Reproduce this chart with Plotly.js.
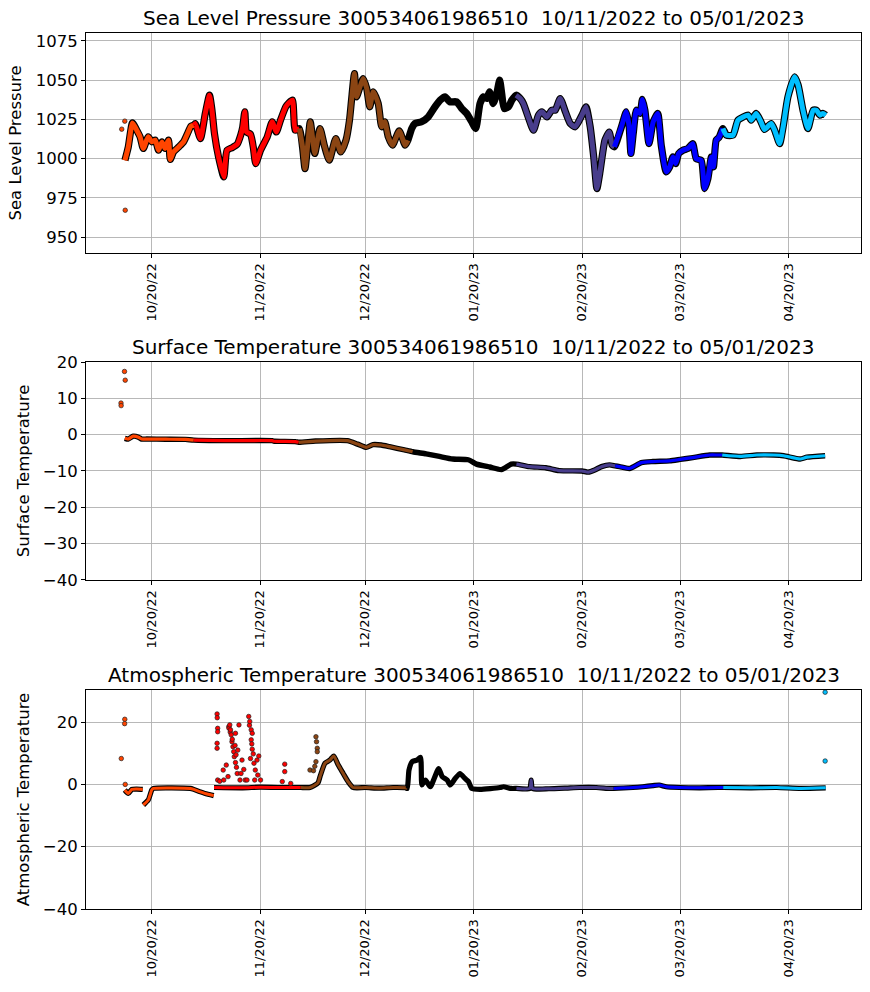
<!DOCTYPE html>
<html>
<head>
<meta charset="utf-8">
<script src="https://cdn.plot.ly/plotly-3.0.1.min.js"></script>
<style>html,body{margin:0;padding:0;background:#fff;}#chart{width:870px;height:992px;}</style>
</head>
<body>
<div id="chart"></div>
<script>
// ---------- DATA ----------
const segColors = ['#FF4500','#FF0000','#8B4513','#000000','#483D8B','#0000FF','#00BFFF'];
const monthBreaks = ['2022-10-01','2022-11-01','2022-12-01','2023-01-01','2023-02-01','2023-03-01','2023-04-01'];
const atmBreaks = ['2022-10-01','2022-11-06 18:00','2022-12-01','2023-01-01','2023-02-01','2023-03-01','2023-04-01'];
const xTicks = ['2022-10-20','2022-11-20','2022-12-20','2023-01-20','2023-02-20','2023-03-20','2023-04-20'];
const xRange = ['2022-10-01 05:00','2023-05-10 16:00'];

const presTitle = 'Sea Level Pressure 300534061986510 \u00a010/11/2022 to 05/01/2023';
const surfTitle = 'Surface Temperature 300534061986510 \u00a010/11/2022 to 05/01/2023';
const atmTitle = 'Atmospheric Temperature 300534061986510 \u00a010/11/2022 to 05/01/2023';

const presDates = [
'2022-10-12 08:00','2022-10-13 07:00','2022-10-14 12:00','2022-10-15 17:00','2022-10-16 16:00','2022-10-17 14:00','2022-10-19 00:00','2022-10-20 00:00','2022-10-21 00:00','2022-10-21 22:00','2022-10-22 22:00','2022-10-23 19:00','2022-10-24 19:00','2022-10-25 07:00','2022-10-26 05:00','2022-10-27 17:00','2022-10-29 02:00','2022-10-30 05:00','2022-10-31 05:00',
'2022-11-01 00:00','2022-11-01 10:00','2022-11-02 22:00','2022-11-04 07:00','2022-11-05 12:00','2022-11-06 05:00','2022-11-06 22:00','2022-11-08 02:00','2022-11-09 14:00','2022-11-10 12:00','2022-11-12 00:00','2022-11-13 10:00','2022-11-14 10:00','2022-11-15 00:00','2022-11-15 14:00','2022-11-16 02:00','2022-11-17 05:00','2022-11-18 00:00','2022-11-18 17:00','2022-11-20 02:00','2022-11-22 00:00','2022-11-23 10:00','2022-11-24 14:00','2022-11-25 19:00','2022-11-27 07:00','2022-11-28 05:00','2022-11-29 05:00','2022-11-30 00:00',
'2022-12-01 05:00','2022-12-02 02:00','2022-12-02 19:00','2022-12-03 12:00','2022-12-04 07:00','2022-12-04 22:00','2022-12-05 14:00','2022-12-07 02:00','2022-12-08 07:00','2022-12-09 17:00','2022-12-11 14:00','2022-12-13 00:00','2022-12-14 12:00','2022-12-15 12:00','2022-12-16 02:00','2022-12-16 22:00','2022-12-17 12:00','2022-12-18 12:00','2022-12-19 10:00','2022-12-20 10:00','2022-12-21 07:00','2022-12-22 07:00','2022-12-23 17:00','2022-12-24 17:00','2022-12-25 14:00','2022-12-26 14:00','2022-12-27 19:00','2022-12-29 17:00','2022-12-31 10:00',
'2023-01-01 05:00','2023-01-02 07:00','2023-01-03 05:00','2023-01-05 02:00','2023-01-07 00:00','2023-01-08 22:00','2023-01-10 10:00','2023-01-11 19:00','2023-01-13 05:00','2023-01-15 02:00','2023-01-16 14:00','2023-01-18 00:00','2023-01-19 10:00','2023-01-20 14:00','2023-01-21 19:00','2023-01-22 19:00','2023-01-23 17:00','2023-01-24 12:00','2023-01-25 14:00','2023-01-26 14:00','2023-01-27 10:00','2023-01-28 00:00','2023-01-28 17:00','2023-01-29 22:00','2023-01-30 22:00',
'2023-02-01 02:00','2023-02-02 07:00','2023-02-03 05:00','2023-02-04 17:00','2023-02-06 02:00','2023-02-07 12:00','2023-02-08 12:00','2023-02-09 22:00','2023-02-11 07:00','2023-02-12 07:00','2023-02-13 17:00','2023-02-15 05:00','2023-02-16 14:00','2023-02-18 00:00','2023-02-19 22:00','2023-02-21 02:00','2023-02-22 07:00','2023-02-23 07:00','2023-02-24 05:00','2023-02-25 00:00','2023-02-26 12:00','2023-02-27 17:00','2023-02-28 14:00',
'2023-03-01 05:00','2023-03-03 05:00','2023-03-04 14:00','2023-03-05 10:00','2023-03-05 22:00','2023-03-06 14:00','2023-03-07 12:00','2023-03-08 12:00','2023-03-09 05:00','2023-03-09 22:00','2023-03-11 02:00','2023-03-12 07:00','2023-03-13 14:00','2023-03-14 14:00','2023-03-16 00:00','2023-03-17 00:00','2023-03-17 22:00','2023-03-18 17:00','2023-03-19 14:00','2023-03-20 19:00','2023-03-22 05:00','2023-03-23 14:00','2023-03-24 14:00','2023-03-26 00:00','2023-03-27 00:00','2023-03-27 22:00','2023-03-28 22:00','2023-03-29 12:00','2023-03-30 07:00','2023-03-31 02:00',
'2023-04-01 05:00','2023-04-02 05:00','2023-04-04 02:00','2023-04-05 12:00','2023-04-07 00:00','2023-04-08 10:00','2023-04-09 07:00','2023-04-10 17:00','2023-04-12 02:00','2023-04-13 02:00','2023-04-15 00:00','2023-04-16 00:00','2023-04-17 10:00','2023-04-18 10:00','2023-04-19 19:00','2023-04-21 17:00','2023-04-22 17:00','2023-04-24 02:00','2023-04-25 12:00','2023-04-27 00:00','2023-04-27 22:00','2023-04-28 22:00','2023-04-29 19:00','2023-04-30 14:00'
];
const presVals = [
999.0,1007.5,1022.8,1018.1,1013.9,1006.5,1013.9,1010.7,1011.8,1005.4,1010.7,1006.5,1011.8,999.5,1004.3,1007.5,1010.7,1016.0,1020.7,
1021.3,1022.4,1012.8,1028.8,1040.4,1030.9,1016.0,1001.1,988.4,1005.4,1007.1,1009.2,1015.0,1020.3,1029.8,1017.0,1015.6,1007.5,996.9,1005.4,1013.9,1023.5,1017.0,1024.5,1033.0,1035.6,1037.3,1018.1,
1019.2,1007.5,993.7,1007.5,1023.5,1013.9,1003.3,1019.2,1008.6,999.0,1012.8,1004.3,1011.8,1024.5,1037.3,1054.2,1039.4,1045.7,1051.0,1044.7,1033.0,1042.6,1035.1,1020.3,1023.5,1013.9,1008.6,1017.7,1008.6,
1011.8,1019.2,1022.4,1023.5,1026.6,1033.0,1037.3,1039.4,1036.2,1036.2,1031.9,1028.8,1023.5,1019.2,1035.1,1039.4,1038.3,1042.6,1035.1,1041.5,1050.0,1041.5,1031.9,1033.0,1037.3,
1040.4,1038.3,1035.1,1025.6,1018.1,1027.7,1029.8,1026.6,1030.9,1030.9,1038.3,1029.8,1022.4,1020.3,1027.7,1033.0,1020.3,1001.1,981.0,990.4,1011.8,1017.0,1008.6,
1007.5,1020.3,1029.8,1020.3,1003.3,1016.0,1030.9,1028.8,1037.7,1030.9,1009.6,1023.5,1028.8,1008.6,991.6,994.8,1001.1,996.9,1003.3,1005.4,1006.5,1009.6,1000.0,999.0,981.0,987.3,1001.1,994.8,1011.8,1013.5,
1019.2,1015.0,1015.0,1024.5,1026.6,1027.7,1024.5,1028.8,1023.5,1018.6,1022.4,1018.1,1009.6,1020.3,1039.4,1052.1,1046.8,1030.9,1019.2,1030.9,1030.9,1027.7,1028.8,1027.7
];
const presPtDates = ['2022-10-12 07:00','2022-10-11 10:00','2022-10-12 10:00'];
const presPtVals = [1023.9,1018.8,967.2];

const surfDates = [
'2022-10-12 07:00','2022-10-13 07:00','2022-10-14 17:00','2022-10-16 05:00','2022-10-17 02:00','2022-10-18 14:00','2022-10-24 00:00','2022-10-29 14:00',
'2022-11-01 00:00','2022-11-10 00:00','2022-11-23 10:00','2022-11-24 00:00','2022-11-30 00:00',
'2022-12-01 00:00','2022-12-05 19:00','2022-12-14 22:00','2022-12-17 19:00','2022-12-20 07:00','2022-12-22 05:00','2022-12-24 14:00','2022-12-26 22:00','2022-12-31 05:00',
'2023-01-02 14:00','2023-01-06 10:00','2023-01-10 05:00','2023-01-14 00:00','2023-01-18 10:00','2023-01-20 19:00','2023-01-24 14:00','2023-01-27 22:00','2023-01-30 17:00',
'2023-02-01 05:00','2023-02-04 22:00','2023-02-09 14:00','2023-02-13 10:00','2023-02-19 22:00','2023-02-21 17:00','2023-02-23 14:00','2023-02-25 12:00','2023-02-27 19:00',
'2023-03-01 10:00','2023-03-02 17:00','2023-03-05 12:00','2023-03-08 22:00','2023-03-12 05:00','2023-03-17 00:00','2023-03-20 00:00','2023-03-23 14:00','2023-03-28 10:00','2023-03-30 17:00',
'2023-04-01 00:00','2023-04-06 05:00','2023-04-10 22:00','2023-04-15 17:00','2023-04-18 14:00','2023-04-23 07:00','2023-04-25 05:00','2023-04-30 10:00'
];
const surfVals = [
-1.0,-1.2,-0.4,-0.7,-1.2,-1.2,-1.25,-1.3,
-1.5,-1.65,-1.65,-1.8,-1.9,
-2.1,-1.75,-1.65,-2.6,-3.5,-2.75,-2.85,-3.3,-4.2,
-4.7,-5.3,-6.0,-6.7,-6.9,-8.1,-8.9,-9.6,-8.1,
-8.1,-8.8,-9.1,-9.9,-10.0,-10.3,-9.7,-8.8,-8.3,
-8.6,-8.8,-9.3,-7.7,-7.4,-7.2,-6.8,-6.3,-5.6,-5.6,
-5.6,-6.0,-5.6,-5.6,-5.8,-6.7,-6.2,-5.8
];
const surfPtDates = ['2022-10-12 05:00','2022-10-12 10:00','2022-10-11 05:00','2022-10-11 06:00'];
const surfPtVals = [17.4,15.0,8.7,8.0];

const atmDates = [
'2022-10-12 07:00','2022-10-13 07:00','2022-10-14 07:00','2022-10-15 17:00','2022-10-17 10:00','2022-10-17 12:00','2022-10-17 14:00','2022-10-19 00:00','2022-10-20 00:00','2022-10-20 12:00','2022-10-31 00:00','2022-11-01 00:00','2022-11-02 22:00','2022-11-04 19:00','2022-11-06 17:00','2022-11-06 18:00',
'2022-11-06 19:00','2022-11-15 00:00','2022-11-20 00:00','2022-11-25 00:00','2022-11-30 00:00',
'2022-12-01 14:00','2022-12-04 05:00','2022-12-06 12:00','2022-12-07 02:00','2022-12-08 12:00','2022-12-09 22:00','2022-12-11 00:00','2022-12-12 07:00','2022-12-13 17:00','2022-12-15 02:00','2022-12-16 12:00','2022-12-20 00:00','2022-12-24 00:00','2022-12-28 00:00','2022-12-31 12:00',
'2023-01-01 00:00','2023-01-01 12:00','2023-01-02 10:00','2023-01-03 19:00','2023-01-04 19:00','2023-01-05 05:00','2023-01-06 05:00','2023-01-07 14:00','2023-01-10 00:00','2023-01-11 00:00','2023-01-12 10:00','2023-01-13 07:00','2023-01-14 17:00','2023-01-16 02:00','2023-01-17 12:00','2023-01-18 12:00','2023-01-19 10:00','2023-01-21 19:00','2023-01-27 12:00','2023-01-28 12:00','2023-01-30 17:00',
'2023-02-01 05:00','2023-02-05 00:00','2023-02-05 10:00','2023-02-05 19:00','2023-02-10 12:00','2023-02-15 10:00','2023-02-19 05:00','2023-02-24 00:00','2023-02-27 19:00',
'2023-03-01 00:00','2023-03-06 12:00','2023-03-09 07:00','2023-03-12 05:00','2023-03-14 00:00','2023-03-16 00:00','2023-03-19 19:00','2023-03-25 12:00','2023-03-30 19:00',
'2023-04-01 07:00','2023-04-08 22:00','2023-04-16 14:00','2023-04-23 10:00','2023-04-30 14:00'
];
const atmVals = [
-1.8,-2.9,-1.6,-1.5,-1.6,null,-6.6,-5.0,-1.8,-1.3,-1.3,-1.6,-2.4,-3.1,-3.6,null,
-1.0,-1.1,-0.9,-1.0,-1.0,
-1.0,-1.0,0.5,2.5,6.8,7.8,9.1,6.2,3.5,0.9,-1.0,-1.0,-1.2,-1.0,-1.1,
-1.3,4.6,7.3,7.8,8.7,-0.2,1.4,-0.75,5.1,2.5,1.4,-0.2,1.9,3.5,1.9,0.9,-1.3,-1.6,-1.0,-0.75,-1.3,
-1.3,-1.3,1.4,-1.3,-1.4,-1.2,-1.0,-1.0,-1.3,
-1.3,-1.0,-0.75,-0.4,-0.2,-0.75,-1.0,-1.1,-1.0,
-1.0,-1.1,-1.0,-1.3,-1.1
];
const atmPtDates = [
'2022-10-12 07:00','2022-10-12 06:00','2022-10-11 07:00','2022-10-12 10:00',
'2022-11-07 16:00','2022-11-07 17:00','2022-11-07 20:00','2022-11-07 20:00','2022-11-07 20:00','2022-11-07 16:00','2022-11-07 16:00','2022-11-08 10:00',
'2022-11-09 10:00','2022-11-09 14:00','2022-11-10 07:00','2022-11-10 19:00','2022-11-11 00:00','2022-11-11 02:00','2022-11-11 07:00','2022-11-11 10:00','2022-11-11 12:00','2022-11-11 17:00','2022-11-11 22:00','2022-11-12 00:00','2022-11-12 05:00','2022-11-12 10:00','2022-11-12 14:00','2022-11-12 19:00','2022-11-12 22:00','2022-11-12 22:00','2022-11-13 02:00','2022-11-13 05:00','2022-11-13 10:00','2022-11-13 14:00','2022-11-13 22:00','2022-11-14 05:00','2022-11-14 12:00','2022-11-14 19:00','2022-11-15 07:00','2022-11-15 17:00','2022-11-16 05:00',
'2022-11-16 17:00','2022-11-16 22:00','2022-11-17 00:00','2022-11-17 05:00','2022-11-17 10:00','2022-11-17 10:00','2022-11-17 14:00','2022-11-17 17:00','2022-11-17 17:00','2022-11-18 00:00','2022-11-18 05:00','2022-11-18 10:00','2022-11-18 14:00','2022-11-19 02:00','2022-11-19 07:00','2022-11-19 14:00','2022-11-20 02:00','2022-11-26 07:00','2022-11-27 00:00','2022-11-27 00:00','2022-11-28 17:00',
'2022-12-04 05:00','2022-12-05 05:00','2022-12-05 14:00','2022-12-05 22:00','2022-12-05 22:00','2022-12-06 02:00','2022-12-06 07:00','2022-12-06 07:00',
'2023-04-30 10:00','2023-04-30 10:00'
];
const atmPtVals = [
20.9,19.5,8.3,0.0,
22.6,21.4,18.0,16.9,1.4,13.2,11.6,1.0,
4.6,1.4,6.2,2.5,18.5,18.0,19.1,16.8,17.5,15.9,13.7,14.5,12.1,10.5,8.9,12.5,16.4,7.0,9.5,5.5,3.5,11.0,19.1,1.4,3.5,7.8,4.8,1.4,1.4,
21.8,19.0,20.2,8.3,17.5,14.3,13.0,16.4,11.3,9.8,6.8,1.4,4.6,7.8,3.0,9.1,1.4,0.9,6.5,4.1,0.3,
4.6,4.4,5.8,15.3,7.3,13.7,11.6,10.5,
29.6,7.5
];

// ---------- BUILD ----------
function segOf(d, breaks){ let s = 0; for (let i = 0; i < breaks.length; i++) if (d >= breaks[i]) s = i; return s; }

function lineTraces(dates, vals, breaks, xa, ya, w){
  const out = [];
  const shape = {shape: 'spline', smoothing: 0.55};
  out.push({x: dates, y: vals, xaxis: xa, yaxis: ya, mode: 'lines', connectgaps: false,
            line: Object.assign({color: '#000', width: w + 2.2}, shape), hoverinfo: 'skip', showlegend: false});
  for (let s = 0; s < breaks.length; s++){
    const xs = [], ys = [];
    let last = -1;
    for (let i = 0; i < dates.length; i++){
      if (segOf(dates[i], breaks) === s){ xs.push(dates[i]); ys.push(vals[i]); last = i; }
    }
    if (last < 0) continue;
    if (last + 1 < dates.length && vals[last] !== null){ xs.push(dates[last+1]); ys.push(vals[last+1]); }
    out.push({x: xs, y: ys, xaxis: xa, yaxis: ya, mode: 'lines', connectgaps: false,
              line: Object.assign({color: segColors[s], width: w}, shape), hoverinfo: 'skip', showlegend: false});
  }
  return out;
}
function pointTrace(dates, vals, breaks, xa, ya){
  return {x: dates, y: vals, xaxis: xa, yaxis: ya, mode: 'markers', showlegend: false, hoverinfo: 'skip',
          marker: {size: 4.5, color: dates.map(d => segColors[segOf(d, breaks)]), line: {color: '#222', width: 0.7}}};
}

const data = [].concat(
  lineTraces(presDates, presVals, monthBreaks, 'x', 'y', 5),
  [pointTrace(presPtDates, presPtVals, monthBreaks, 'x', 'y')],
  lineTraces(surfDates, surfVals, monthBreaks, 'x2', 'y2', 3.2),
  [pointTrace(surfPtDates, surfPtVals, monthBreaks, 'x2', 'y2')],
  lineTraces(atmDates, atmVals, atmBreaks, 'x3', 'y3', 3),
  [pointTrace(atmPtDates, atmPtVals, atmBreaks, 'x3', 'y3')]
);

const FONT = 'DejaVu Sans, sans-serif';
function xAxis(anchor){
  return {anchor: anchor, type: 'date', range: xRange, tickvals: xTicks, tickformat: '%m/%d/%y', tickangle: -90,
          ticks: 'outside', ticklen: 4, tickcolor: '#000', tickwidth: 1, tickfont: {size: 13, color: '#000'},
          showgrid: true, gridcolor: '#b0b0b0', gridwidth: 0.9, showline: true, mirror: true,
          linecolor: '#000', linewidth: 1, zeroline: false, automargin: false};
}
function yAxis(anchor, domain, range, tv, title){
  return {anchor: anchor, domain: domain, range: range, tickvals: tv, ticks: 'outside', ticklen: 4,
          tickcolor: '#000', tickwidth: 1, tickfont: {size: 16.5, color: '#000'},
          showgrid: true, gridcolor: '#b0b0b0', gridwidth: 0.9, showline: true, mirror: true,
          linecolor: '#000', linewidth: 1, zeroline: false, automargin: false,
          title: {text: title, font: {size: 16.5, color: '#000'}, standoff: 9}};
}
const d1 = [0.7489, 1.0], d2 = [0.3756, 0.6244], d3 = [0.0, 0.25];
const layout = {
  width: 870, height: 992, paper_bgcolor: '#fff', plot_bgcolor: '#fff',
  font: {family: FONT, color: '#000'},
  margin: {l: 86, r: 9, t: 33, b: 83},
  xaxis: xAxis('y'), xaxis2: xAxis('y2'), xaxis3: xAxis('y3'),
  yaxis: yAxis('x', d1, [940, 1080], [950, 975, 1000, 1025, 1050, 1075], 'Sea Level Pressure'),
  yaxis2: yAxis('x2', d2, [-40, 20], [-40, -30, -20, -10, 0, 10, 20], 'Surface Temperature'),
  yaxis3: yAxis('x3', d3, [-40, 30.3], [-40, -20, 0, 20], 'Atmospheric Temperature'),
  annotations: [
    {text: presTitle, xref: 'paper', yref: 'paper', x: 0.5, y: d1[1], xanchor: 'center', yanchor: 'bottom', yshift: 1, showarrow: false, font: {size: 20}},
    {text: surfTitle, xref: 'paper', yref: 'paper', x: 0.5, y: d2[1], xanchor: 'center', yanchor: 'bottom', yshift: 1, showarrow: false, font: {size: 20}},
    {text: atmTitle, xref: 'paper', yref: 'paper', x: 0.5, y: d3[1], xanchor: 'center', yanchor: 'bottom', yshift: 1, showarrow: false, font: {size: 20}}
  ]
};
Plotly.newPlot('chart', data, layout, {staticPlot: true, displayModeBar: false});
</script>
</body>
</html>
